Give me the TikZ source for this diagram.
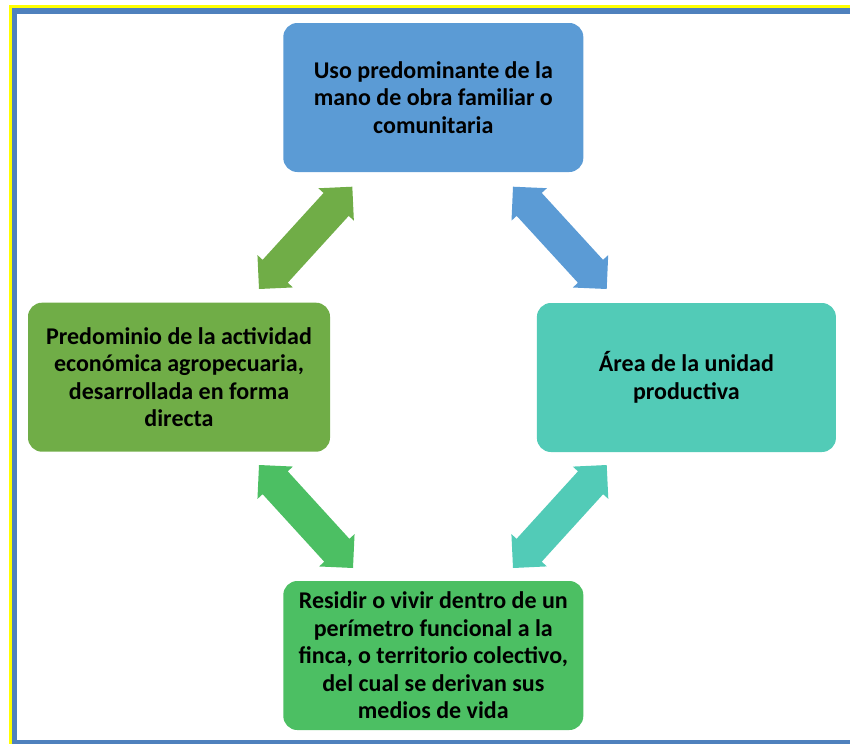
\documentclass[tikz,border=0pt]{standalone}
\usepackage{fontspec}
\setmainfont{Carlito}
\usetikzlibrary{calc}
\definecolor{cblue}{HTML}{5B9BD5}
\definecolor{cgreen}{HTML}{70AD47}
\definecolor{cteal}{HTML}{52CBB7}
\definecolor{cgreenb}{HTML}{4CBF63}
\definecolor{framblue}{HTML}{4F81BD}
\definecolor{framyel}{HTML}{FFFF00}
\newcommand\hl{24pt}
\newcommand\hh{24pt}
\newcommand\hw{17pt}
\newcommand\dblarr[3]{%
  \coordinate (pa) at ($(#1)!\hl!(#2)$);
  \coordinate (pb) at ($(#2)!\hl!(#1)$);
  \fill[#3] (#1) -- ($(pa)!\hh!90:(#2)$) -- ($(pa)!\hw!90:(#2)$)
    -- ($(pb)!\hw!-90:(#1)$) -- ($(pb)!\hh!-90:(#1)$) -- (#2)
    -- ($(pb)!\hh!90:(#1)$) -- ($(pb)!\hw!90:(#1)$)
    -- ($(pa)!\hw!-90:(#2)$) -- ($(pa)!\hh!-90:(#2)$) -- cycle;}
\tikzset{
  box/.style={rounded corners=14pt, minimum width=300pt, minimum height=149pt,
    align=center, inner sep=0pt, text=black,
    font=\fontsize{24}{27.5}\selectfont\bfseries}
}
\begin{document}
\begin{tikzpicture}[x=1pt,y=-1pt]
\useasboundingbox (0,0) rectangle (850,744);
% frame
\fill[framyel] (9,5) rectangle (850,7.6);
\fill[framyel] (9,5) rectangle (11.7,744);
\fill[framblue] (11.7,7.6) rectangle (850,13.7);
\fill[framblue] (11.7,7.6) rectangle (16.7,744);
\fill[framblue] (11.7,740) rectangle (850,744);
% boxes
\node[box, fill=cblue] (top) at (433.3,97.5)
  {Uso predominante de la\\mano de obra familiar o\\comunitaria};
\node[box, fill=cgreen, minimum width=302pt] (left) at (179,377.2)
  {Predominio de la actividad\\económica agropecuaria,\\desarrollada en forma\\directa};
\node[box, fill=cteal, minimum width=299pt] (right) at (686.4,377.5)
  {Área de la unidad\\productiva};
\node[box, fill=cgreenb] (bot) at (433.3,655.5)
  {Residir o vivir dentro de un\\perímetro funcional a la\\finca, o territorio colectivo,\\del cual se derivan sus\\medios de vida};
% arrow tips
\coordinate (tla) at (259,289);
\coordinate (tlb) at (352.3,186.7);
\coordinate (tra) at (513,186.7);
\coordinate (trb) at (606.7,289);
\coordinate (bla) at (259,465);
\coordinate (blb) at (353,568);
\coordinate (bra) at (606.7,465);
\coordinate (brb) at (513,568);
\dblarr{tla}{tlb}{cgreen}
\dblarr{tra}{trb}{cblue}
\dblarr{bla}{blb}{cgreenb}
\dblarr{bra}{brb}{cteal}
\end{tikzpicture}
\end{document}
